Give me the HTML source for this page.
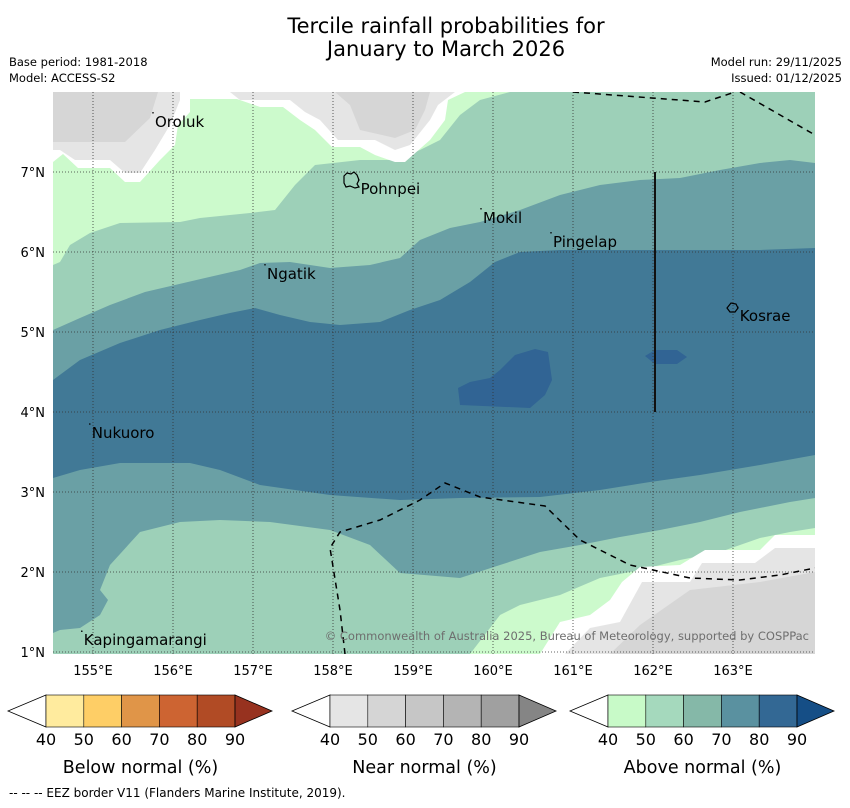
<!DOCTYPE html>
<html><head><meta charset="utf-8"><style>
body{margin:0;background:#fff;font-family:"DejaVu Sans","Liberation Sans",sans-serif}
svg text{font-family:"DejaVu Sans","Liberation Sans",sans-serif}
</style></head><body>
<svg id="c" width="850" height="804" xmlns="http://www.w3.org/2000/svg">
<text x="446" y="33" text-anchor="middle" font-size="21">Tercile rainfall probabilities for</text>
<text x="446" y="56" text-anchor="middle" font-size="21">January to March 2026</text>
<text x="9" y="66" font-size="11.5">Base period: 1981-2018</text>
<text x="9" y="82" font-size="11.5">Model: ACCESS-S2</text>
<text x="842" y="66" text-anchor="end" font-size="11.5">Model run: 29/11/2025</text>
<text x="842" y="82" text-anchor="end" font-size="11.5">Issued: 01/12/2025</text>
<defs><clipPath id="mc"><rect x="53" y="92" width="762" height="562"/></clipPath></defs>
<g id="map" clip-path="url(#mc)"></g>
<g id="over"></g>
<text x="809" y="640" text-anchor="end" font-size="11.5" fill="#6e6e6e">© Commonwealth of Australia 2025, Bureau of Meteorology, supported by COSPPac</text>
<g id="cbars"></g>
<text x="9" y="797" font-size="12">--  --  -- EEZ border V11 (Flanders Marine Institute, 2019).</text>
</svg>
<script>
const NS="http://www.w3.org/2000/svg";
const lonTicks=[155,156,157,158,159,160,161,162,163];
const latTicks=[1,2,3,4,5,6,7];
const lon0=154.5, lat0=8, ppd=80, mx=53, my=92;
const xS=l=>mx+(l-lon0)*ppd;
const yS=l=>my+(lat0-l)*ppd;
const islands=["Oroluk","Pohnpei","Mokil","Pingelap","Ngatik","Kosrae","Nukuoro","Kapingamarangi"];
const islandLon=[155.75,158.32,159.85,160.725,157.15,163.06,154.96,154.86];
const islandLat=[7.74,6.9,6.54,6.24,5.84,5.31,3.85,1.26];
const cbTicks=[40,50,60,70,80,90];
const cbTitles=["Below normal (%)","Near normal (%)","Above normal (%)"];
const cbColors=[["#ffeb9e","#fece66","#e09548","#cd6432","#b14b25","#97321f"],["#e5e5e5","#d5d5d5","#c6c6c6","#b4b4b4","#a0a0a0","#858585"],["#c8fac8","#a5d9bd","#85b8a8","#5a91a0","#336894","#154e86"]];
const cbLeft=[46,330,608];
const R={
 lgTop:[[53,92],[53,162],[63,154],[78,168],[110,168],[125,182],[140,182],[160,160],[175,145],[178,125],[190,112],[190,99],[237,99],[260,107],[283,107],[300,120],[315,130],[332,147],[360,147],[375,155],[395,162],[405,162],[430,140],[445,120],[448,100],[465,92]],
 lgArea:[[53,92],[53,265],[60,262],[70,245],[90,233],[120,223],[180,222],[200,218],[250,213],[275,210],[295,185],[315,165],[360,160],[395,160],[420,150],[440,140],[460,115],[480,100],[510,92]],
 g1a:[[53,92],[53,150],[60,150],[75,160],[110,160],[125,173],[140,173],[155,150],[170,125],[180,100],[180,92]],
 g1b:[[53,92],[53,142],[125,142],[150,118],[158,92]],
 g2a:[[230,92],[240,100],[290,100],[305,112],[320,120],[338,140],[375,140],[395,150],[410,145],[430,120],[438,105],[455,92]],
 g2b:[[335,92],[350,105],[360,130],[395,138],[415,130],[425,110],[430,92]],
 teal:[[53,330],[80,318],[110,305],[145,292],[175,285],[205,278],[240,270],[260,263],[290,262],[330,268],[370,265],[400,258],[420,240],[450,228],[480,222],[520,210],[560,195],[600,185],[640,180],[680,178],[720,170],[760,163],[790,160],[815,163],[815,498],[790,502],[740,512],[700,522],[660,530],[620,537],[580,545],[540,552],[500,565],[460,578],[400,573],[370,545],[330,530],[270,522],[220,520],[180,522],[140,532],[110,565],[100,590],[108,600],[100,615],[80,628],[60,630],[53,633]],
 blue:[[53,380],[80,360],[120,343],[160,330],[200,320],[230,313],[255,308],[280,315],[310,322],[340,325],[380,322],[410,310],[440,300],[470,282],[495,262],[520,252],[560,250],[650,250],[760,250],[815,248],[815,455],[760,465],[700,475],[650,482],[600,490],[540,497],[460,498],[400,500],[330,495],[260,485],[220,470],[190,463],[120,463],[80,470],[53,478]],
 dk1:[[458,388],[460,405],[530,408],[545,395],[552,380],[548,352],[535,349],[515,355],[500,370],[490,378],[470,382]],
 dk2:[[645,356],[655,350],[677,350],[687,357],[677,364],[655,364]],
 lgBot:[[470,654],[500,615],[520,605],[560,595],[600,578],[640,570],[680,560],[720,552],[760,538],[790,532],[815,528],[815,654]],
 whBot:[[540,654],[560,622],[590,615],[610,600],[622,582],[640,567],[680,565],[705,550],[760,550],[775,535],[815,535],[815,654]],
 grBot:[[565,654],[590,628],[620,622],[642,582],[690,582],[702,563],[755,563],[775,548],[815,548],[815,654]],
 grBot2:[[610,654],[640,625],[690,590],[760,582],[815,572],[815,654]]
};
const eez1=[[573,92],[705,102],[735,92]];
const eez2=[[740,92],[815,135]];
const eez3=[[345,654],[340,610],[330,548],[340,532],[380,520],[420,500],[445,483],[480,497],[545,506],[580,540],[630,565],[690,578],[740,580],[780,575],[815,568]];
function el(t,a,p,name){const e=document.createElementNS(NS,t);for(const k in a)e.setAttribute(k,a[k]);


p.appendChild(e);return e;}
const map=document.getElementById('map');
const pts=a=>a.map(p=>p.join(',')).join(' ');
el('rect',{x:53,y:92,width:762,height:562,fill:'#9dd0b8'},map,'near-above-50-fill');
el('polygon',{points:pts(R.lgArea),fill:'#ccfacc'},map,'above-40-region-north');
el('polygon',{points:pts(R.lgTop),fill:'#ffffff'},map,'no-dominant-region-north');
el('polygon',{points:pts(R.g1a),fill:'#e5e5e5'},map,'near-normal-40-region');
el('polygon',{points:pts(R.g1b),fill:'#d6d6d6'},map,'near-normal-50-region');
el('polygon',{points:pts(R.g2a),fill:'#e5e5e5'},map,'near-normal-40-region-2');
el('polygon',{points:pts(R.g2b),fill:'#d6d6d6'},map,'near-normal-50-region-2');
el('polygon',{points:pts(R.teal),fill:'#6aa0a5'},map,'above-60-region');
el('polygon',{points:pts(R.blue),fill:'#417996'},map,'above-70-region');
el('polygon',{points:pts(R.dk1),fill:'#316494'},map,'above-80-region');
el('polygon',{points:pts(R.dk2),fill:'#316494'},map,'above-80-region-2');
el('polygon',{points:pts(R.lgBot),fill:'#ccfacc'},map,'above-40-region-south');
el('polygon',{points:pts(R.whBot),fill:'#ffffff'},map,'no-dominant-region-south');
el('polygon',{points:pts(R.grBot),fill:'#e5e5e5'},map,'near-normal-40-south');
el('polygon',{points:pts(R.grBot2),fill:'#d6d6d6'},map,'near-normal-50-south');
lonTicks.forEach(l=>{el('line',{x1:xS(l),x2:xS(l),y1:92,y2:654,stroke:'#333','stroke-width':0.8,'stroke-dasharray':'1,2'},map,'lon-gridline');});
latTicks.forEach(l=>{el('line',{x1:53,x2:815,y1:yS(l),y2:yS(l),stroke:'#333','stroke-width':0.8,'stroke-dasharray':'1,2'},map,'lat-gridline');});
[eez1,eez2,eez3].forEach(a=>{el('polyline',{points:pts(a),fill:'none',stroke:'#000','stroke-width':1.5,'stroke-dasharray':'6,5'},map,'eez-border');});
el('line',{x1:655,x2:655,y1:172,y2:412,stroke:'#111','stroke-width':2},map,'boundary-line');
el('path',{d:'M344,176 l3,-3 l4,1 l3,-2 l3,3 l2,5 l-2,4 l2,3 l-4,1 l-5,-2 l-4,1 l-2,-4 z',fill:'none',stroke:'#000','stroke-width':1.2},map,'pohnpei-outline');
el('path',{d:'M727,308 l4,-5 l5,1 l2,4 l-3,4 l-5,0 z',fill:'none',stroke:'#000','stroke-width':1.2},map,'kosrae-outline');
islands.forEach((n,i)=>{const x=xS(islandLon[i]),y=yS(islandLat[i]);
 el('circle',{cx:x,cy:y,r:0.8,fill:'#000'},map,'island-marker');
 const t=el('text',{x:x+2,y:y+14,'font-size':15},map,'island-label');t.textContent=n;});
const over=document.getElementById('over');
lonTicks.forEach(l=>{const t=el('text',{x:xS(l),y:675,'text-anchor':'middle','font-size':13},over,'x-tick-label');t.textContent=l+'°E';});
latTicks.forEach(l=>{const t=el('text',{x:45,y:yS(l)+5,'text-anchor':'end','font-size':13},over,'y-tick-label');t.textContent=l+'°N';});
const cb=document.getElementById('cbars');
const step=37.8, cbTop=695, cbH=32;
cbLeft.forEach((x0,k)=>{
 const x1=x0+step*(cbTicks.length-1);
 el('polygon',{points:`${x0},${cbTop} ${x0-38},${cbTop+cbH/2} ${x0},${cbTop+cbH}`,fill:'#fff',stroke:'#000','stroke-width':0.8},cb,'colorbar-low-extend');
 for(let i=0;i<cbTicks.length-1;i++){
  el('rect',{x:x0+i*step,y:cbTop,width:step,height:cbH,fill:cbColors[k][i],stroke:'#000','stroke-width':0.6},cb,'colorbar-bin');}
 el('polygon',{points:`${x1},${cbTop} ${x1+37},${cbTop+cbH/2} ${x1},${cbTop+cbH}`,fill:cbColors[k][5],stroke:'#000','stroke-width':0.8},cb,'colorbar-high-extend');
 cbTicks.forEach((v,i)=>{const t=el('text',{x:x0+i*step,y:745,'text-anchor':'middle','font-size':16},cb,'colorbar-tick');t.textContent=v;});
 const t=el('text',{x:(x0+x1)/2,y:773,'text-anchor':'middle','font-size':17.5},cb,'colorbar-title');t.textContent=cbTitles[k];
});
</script>
</body></html>
